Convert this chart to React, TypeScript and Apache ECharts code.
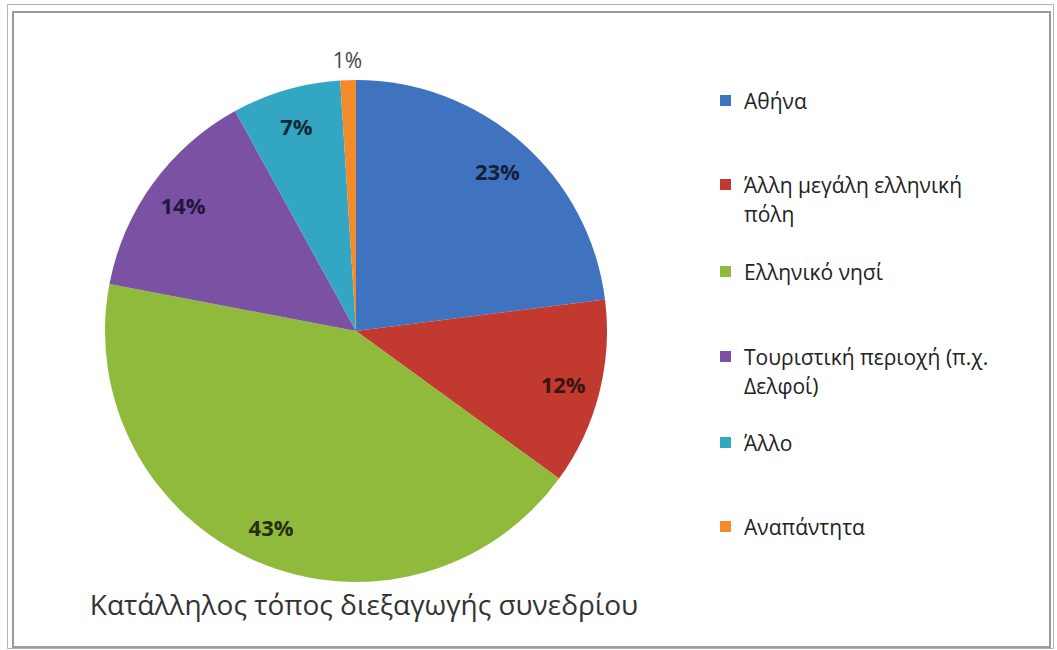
import React, { useEffect, useRef } from "react";
import * as echarts from "echarts";

const categories = [
  "Αθήνα",
  "Άλλη μεγάλη ελληνική πόλη",
  "Ελληνικό νησί",
  "Τουριστική περιοχή (π.χ. Δελφοί)",
  "Άλλο",
  "Αναπάντητα",
];
// legend text as wrapped in the reference
const legendLabels = [
  "Αθήνα",
  "Άλλη μεγάλη ελληνική\nπόλη",
  "Ελληνικό νησί",
  "Τουριστική περιοχή (π.χ.\nΔελφοί)",
  "Άλλο",
  "Αναπάντητα",
];
const values = [23, 12, 43, 14, 7, 1];
const colors = ["#3f73c0", "#c2392f", "#8fba3c", "#7b52a3", "#33a6c4", "#f58a2a"];
const labelColors = ["#14203a", "#3a1410", "#23300e", "#22163a", "#102a33", "#444444"];
const titleText = "Κατάλληλος τόπος διεξαγωγής συνεδρίου";

// layout
const CX = 356;
const CY = 331;
const R = 251;
const LEGEND_LEFT = 720;
const LEGEND_TOPS = [86, 170, 257, 342, 428, 512];
const FONT = "'Open Sans', 'Noto Sans', sans-serif";

const ICON_ONE = "path://M0,0L11,0L11,11L0,11Z M19,0L19,0.001L19.001,0.001Z";
const ICON_TWO = "path://M0,0L11,0L11,11L0,11Z M19,40L19,40.001L19.001,40.001Z";

export default function App() {
  const ref = useRef<HTMLDivElement>(null);
  useEffect(() => {
    document.body.style.margin = "0";
    const chart = echarts.init(ref.current!, undefined, { renderer: "svg" });
    const pieData = categories.map((name, i) => ({
      name,
      value: values[i],
      itemStyle: { color: colors[i] },
    }));
    const legends = categories.map((name, i) => {
      const twoLine = legendLabels[i].indexOf("\n") >= 0;
      return {
        show: true,
        orient: "vertical",
        left: LEGEND_LEFT,
        top: LEGEND_TOPS[i],
        padding: 0,
        itemWidth: 19,
        itemHeight: twoLine ? 40 : 11,
        icon: twoLine ? ICON_TWO : ICON_ONE,
        selectedMode: false,
        data: [{ name, itemStyle: { color: colors[i], borderWidth: 0 } }],
        formatter: () => legendLabels[i],
        textStyle: {
          fontFamily: FONT,
          fontSize: 21,
          color: "#222222",
          lineHeight: 29,
        },
      };
    });
    chart.setOption({
      animation: false,
      backgroundColor: "#ffffff",
      title: {
        text: titleText,
        left: 364,
        top: 590,
        padding: 0,
        textAlign: "center",
        textStyle: { fontFamily: FONT, fontSize: 28, fontWeight: "normal", color: "#333333" },
      },
      legend: legends,
      graphic: [
        {
          type: "rect",
          shape: { x: 7.5, y: 4.5, width: 1046, height: 644 },
          style: { fill: "none", stroke: "#b4b4b4", lineWidth: 1 },
          silent: true,
        },
        {
          type: "rect",
          shape: { x: 13, y: 12, width: 1037, height: 635 },
          style: { fill: "none", stroke: "#9a9a9a", lineWidth: 2 },
          silent: true,
        },
      ],
      series: [
        {
          type: "pie",
          center: [CX, CY],
          radius: [0, R],
          startAngle: 90,
          clockwise: true,
          label: { show: false },
          labelLine: { show: false },
          itemStyle: { borderWidth: 0 },
          silent: true,
          data: pieData,
        },
        {
          type: "pie",
          center: [CX, CY],
          radius: [R * 0.68, R],
          startAngle: 90,
          clockwise: true,
          silent: true,
          itemStyle: { color: "rgba(0,0,0,0)", borderWidth: 0 },
          labelLine: { show: false },
          label: {
            show: true,
            position: "inside",
            formatter: "{c}%",
            fontFamily: FONT,
            fontSize: 22,
            fontWeight: "bold",
          },
          data: categories.map((name, i) => ({
            name,
            value: values[i],
            itemStyle: { color: "rgba(0,0,0,0)" },
            label: { show: i !== 5, color: labelColors[i] },
          })),
        },
        {
          type: "pie",
          center: [CX, CY],
          radius: [R, R * 1.14],
          startAngle: 90,
          clockwise: true,
          silent: true,
          itemStyle: { color: "rgba(0,0,0,0)", borderWidth: 0 },
          labelLine: { show: false },
          label: {
            show: true,
            position: "inside",
            formatter: "{c}%",
            fontFamily: FONT,
            fontSize: 21,
            fontWeight: "normal",
          },
          data: categories.map((name, i) => ({
            name,
            value: values[i],
            itemStyle: { color: "rgba(0,0,0,0)" },
            label: { show: i === 5, color: labelColors[i] },
          })),
        },
      ],
    });
    return () => chart.dispose();
  }, []);
  return <div ref={ref} style={{ position: "fixed", left: 0, top: 0, width: 1057, height: 650 }} />;
}
